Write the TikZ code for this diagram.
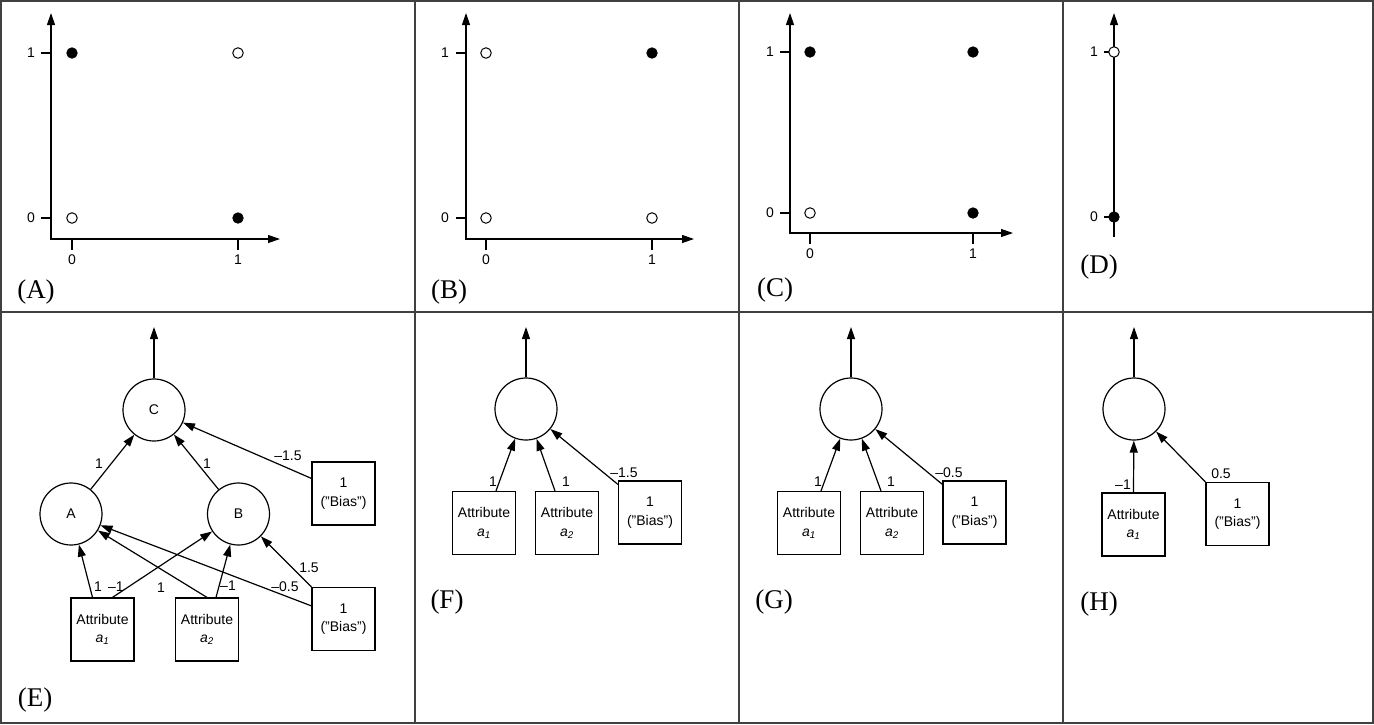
\documentclass[tikz,border=0pt]{standalone}
\usepackage{fontspec}
\setmainfont{Liberation Sans}
\newfontfamily\panelfont{Liberation Serif}
\usetikzlibrary{arrows.meta,calc}
\tikzset{
  frame/.style={line width=1.8pt, draw=black!75},
  tip/.tip={Triangle[length=12pt,width=8pt]},
  axisline/.style={line width=1.2pt},
  tickline/.style={line width=1.2pt},
  dotf/.style={circle, fill=black, draw=black, line width=0.8pt, minimum size=10.5pt, inner sep=0pt},
  doto/.style={circle, fill=white, draw=black, line width=1pt, minimum size=10.5pt, inner sep=0pt},
  num/.style={inner sep=0pt, font=\fontsize{14}{16}\selectfont},
  plabel/.style={inner sep=0pt, font=\panelfont\fontsize{27}{30}\selectfont},
  neuron/.style={circle, draw, line width=1.2pt, minimum size=62pt, inner sep=0pt, font=\fontsize{14}{16}\selectfont},
  inbox/.style={rectangle, draw, line width=1.2pt, minimum width=63pt, minimum height=63pt, inner sep=0pt, align=center, font=\fontsize{14}{18.5}\selectfont},
  edge/.style={line width=1.2pt, -tip},
}
\newcommand{\attr}[1]{Attribute\\\textit{a}\textsubscript{\textit{#1}}}
\begin{document}
\begin{tikzpicture}[x=1pt,y=-1pt]
\useasboundingbox (0,0) rectangle (1374,724);
\fill[white] (0,0) rectangle (1374,724);
% frame
\draw[frame] (1,1) rectangle (1373,723);
\draw[frame] (415,1) -- (415,723);
\draw[frame] (739,1) -- (739,723);
\draw[frame] (1063,1) -- (1063,723);
\draw[frame] (1,312) -- (1373,312);

% ---------- Panel A ----------
\draw[axisline, tip-tip] (51,13) -- (51,239) -- (280,239);
\draw[tickline] (72,239) -- (72,250);
\draw[tickline] (238,239) -- (238,250);
\draw[tickline] (41,53) -- (51,53);
\draw[tickline] (41,218) -- (51,218);
\node[num] (Ax0) at (72,260) {0};
\node[num] (Ax1) at (238,260) {1};
\node[num] (Ay1) at (31,53) {1};
\node[num] (Ay0) at (31,218) {0};
\node[dotf] (Ap01) at (72,53) {};
\node[doto] (Ap11) at (238,53) {};
\node[doto] (Ap00) at (72,218) {};
\node[dotf] (Ap10) at (238,218) {};
\node[plabel] (LA) at (36,292) {(A)};

% ---------- Panel B ----------
\draw[axisline, tip-tip] (466,13) -- (466,239) -- (694,239);
\draw[tickline] (486,239) -- (486,250);
\draw[tickline] (652,239) -- (652,250);
\draw[tickline] (456,53) -- (466,53);
\draw[tickline] (456,218) -- (466,218);
\node[num] (Bx0) at (486,260) {0};
\node[num] (Bx1) at (652,260) {1};
\node[num] (By1) at (445,53) {1};
\node[num] (By0) at (445,218) {0};
\node[doto] (Bp01) at (486,53) {};
\node[dotf] (Bp11) at (652,53) {};
\node[doto] (Bp00) at (486,218) {};
\node[doto] (Bp10) at (652,218) {};
\node[plabel] (LB) at (449,292) {(B)};

% ---------- Panel C ----------
\draw[axisline, tip-tip] (790,13) -- (790,233) -- (1013,233);
\draw[tickline] (810,233) -- (810,244);
\draw[tickline] (973,233) -- (973,244);
\draw[tickline] (780,52) -- (790,52);
\draw[tickline] (780,213) -- (790,213);
\node[num] (Cx0) at (810,254) {0};
\node[num] (Cx1) at (973,254) {1};
\node[num] (Cy1) at (770,52) {1};
\node[num] (Cy0) at (770,213) {0};
\node[dotf] (Cp01) at (810,52) {};
\node[dotf] (Cp11) at (973,52) {};
\node[doto] (Cp00) at (810,213) {};
\node[dotf] (Cp10) at (973,213) {};
\node[plabel] (LC) at (775,290) {(C)};

% ---------- Panel D ----------
\draw[axisline, tip-] (1114,13) -- (1114,237);
\draw[tickline] (1104,52) -- (1114,52);
\draw[tickline] (1104,217) -- (1114,217);
\node[num] (Dy1) at (1094,52) {1};
\node[num] (Dy0) at (1094,217) {0};
\node[doto] (Dp1) at (1114,52) {};
\node[dotf] (Dp0) at (1114,217) {};
\node[plabel] (LD) at (1099,267) {(D)};

% ---------- Panel E ----------
\node[neuron] (EC) at (154,410) {C};
\node[neuron] (EA) at (71,514) {A};
\node[neuron] (EB) at (238.5,514) {B};
\node[inbox] (Ea1) at (102.5,629.5) {\attr{1}};
\node[inbox] (Ea2) at (207,629.5) {\attr{2}};
\node[inbox] (Eb1) at (343.5,493.5) {1\\("Bias")};
\node[inbox] (Eb2) at (343.5,619) {1\\("Bias")};
\coordinate (Eout) at (154,327);
\draw[edge] (EC.north) -- (Eout);
\draw[edge] (EA) -- (EC);
\draw[edge] (EB) -- (EC);
\draw[edge] ($(Eb1.north west)+(0,17)$) -- (EC);
\draw[edge] ($(Ea1.north)+(-10,0)$) -- (EA);
\draw[edge] ($(Ea1.north)+(10,0)$) -- (EB);
\draw[edge] (Ea2.north) -- (EA);
\draw[edge] ($(Ea2.north)+(9,0)$) -- (EB);
\draw[edge] ($(Eb2.north west)+(0,19)$) -- (EA);
\draw[edge] (Eb2.north west) -- (EB);
\node[num] (EwAC) at (99,464) {1};
\node[num] (EwBC) at (207,464) {1};
\node[num] (EwbC) at (288,456) {–1.5};
\node[num] (Ew1A) at (98,587) {1};
\node[num] (Ew1B) at (116,587) {–1};
\node[num] (Ew2A) at (161,588) {1};
\node[num] (Ew2B) at (228,586) {–1};
\node[num] (EwbA) at (285,587) {–0.5};
\node[num] (EwbB) at (309,568) {1.5};
\node[plabel] (LE) at (35,700) {(E)};

% ---------- Panel F ----------
\node[neuron] (FN) at (526,409) {};
\node[inbox] (Fa1) at (484,523) {\attr{1}};
\node[inbox] (Fa2) at (567,523) {\attr{2}};
\node[inbox] (Fb) at (650,512.5) {1\\("Bias")};
\coordinate (Fout) at (526,327);
\draw[edge] (FN.north) -- (Fout);
\draw[edge] ($(Fa1.north)+(12,0)$) -- (FN);
\draw[edge] ($(Fa2.north)+(-12,0)$) -- (FN);
\draw[edge] ($(Fb.north west)+(0,4)$) -- (FN);
\node[num] (Fw1) at (493,482) {1};
\node[num] (Fw2) at (566,482) {1};
\node[num] (Fwb) at (624,473) {–1.5};
\node[plabel] (LF) at (447,602) {(F)};

% ---------- Panel G ----------
\node[neuron] (GN) at (851,409) {};
\node[inbox] (Ga1) at (809,523) {\attr{1}};
\node[inbox] (Ga2) at (892,523) {\attr{2}};
\node[inbox] (Gb) at (974.5,512.5) {1\\("Bias")};
\coordinate (Gout) at (851,327);
\draw[edge] (GN.north) -- (Gout);
\draw[edge] ($(Ga1.north)+(12,0)$) -- (GN);
\draw[edge] ($(Ga2.north)+(-11,0)$) -- (GN);
\draw[edge] ($(Gb.north west)+(0,4)$) -- (GN);
\node[num] (Gw1) at (818,482) {1};
\node[num] (Gw2) at (891,482) {1};
\node[num] (Gwb) at (949,473) {–0.5};
\node[plabel] (LG) at (774,602) {(G)};

% ---------- Panel H ----------
\node[neuron] (HN) at (1134,409) {};
\node[inbox] (Ha1) at (1133.5,524.5) {\attr{1}};
\node[inbox] (Hb) at (1237.5,514) {1\\("Bias")};
\coordinate (Hout) at (1134,327);
\draw[edge] (HN.north) -- (Hout);
\draw[edge] (Ha1.north) -- (HN);
\draw[edge] (Hb.north west) -- (HN);
\node[num] (Hw1) at (1123,485) {–1};
\node[num] (Hwb) at (1221,474) {0.5};
\node[plabel] (LH) at (1099,604) {(H)};
\end{tikzpicture}
\end{document}
